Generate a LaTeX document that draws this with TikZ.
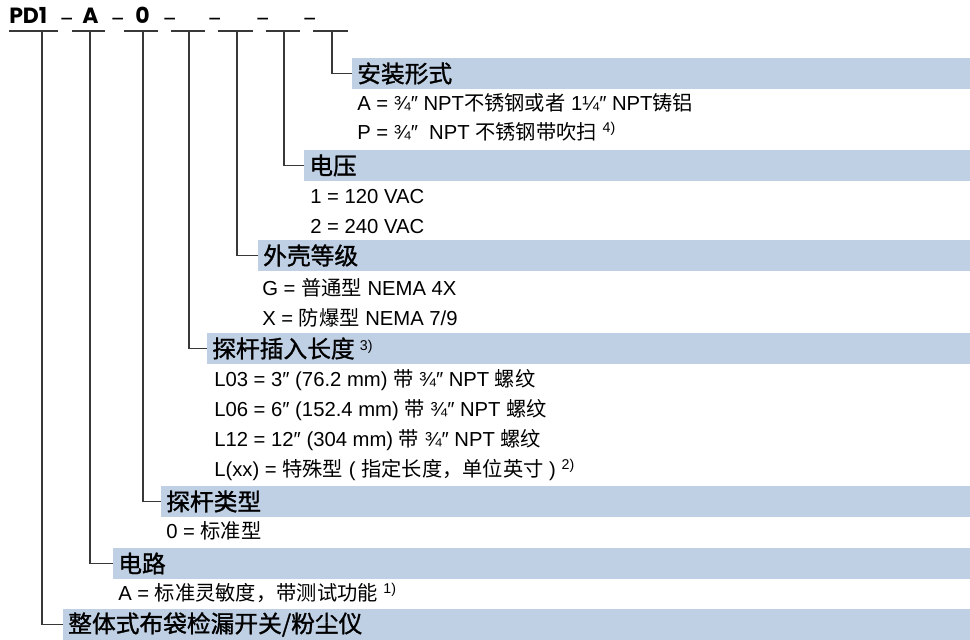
\documentclass[tikz,border=0pt]{standalone}
\usepackage{fontspec}
\setmainfont{Liberation Sans}
\newfontfamily\cjk{Noto Sans CJK SC}
\newfontfamily\cjkhead[FakeBold=1.2]{Noto Sans CJK SC}
\newfontfamily\hdrfont{Poppins}
\newcommand{\zh}[1]{{\cjk #1}}
\newcommand{\fn}[1]{\textsuperscript{#1}}
\definecolor{barblue}{HTML}{C0D0E4}
\definecolor{linegray}{HTML}{383838}
\tikzset{
  bar/.style={fill=barblue, draw=none, anchor=north west, minimum height=31*0.75pt, inner sep=0pt, outer sep=0pt},
  headtxt/.style={anchor=west, inner sep=0pt, font=\cjkhead\fontsize{17.8}{19}\selectfont},
  itemtxt/.style={anchor=west, inner sep=0pt, font=\fontsize{15.2}{17}\selectfont},
  hdr/.style={anchor=base west, inner sep=0pt, font=\hdrfont\bfseries\fontsize{16.5}{18}\selectfont},
  hdrsep/.style={anchor=base west, inner sep=0pt, font=\hdrfont\fontsize{15}{16}\selectfont},
  conn/.style={draw=linegray, line width=1.1pt},
}
\newcommand{\mybar}[4]{%
  \node[bar, minimum width={(970-#2)*0.75pt}] (#1) at (#2,#3) {};
  \node[headtxt] (#1t) at ([xshift=5*0.75pt]#1.west) {#4};
}
\begin{document}
\begin{tikzpicture}[x=0.75pt,y=-0.75pt]
\useasboundingbox (0,0) rectangle (970,639);
% header code
\node[hdr] (pd) at (9,23.5) {PD1};
\node[hdrsep] (s1) at (59,23) {\raisebox{0.3em}{\_}};
\node[hdr] (ca) at (82,23.5) {A};
\node[hdrsep] (s2) at (110,23) {\raisebox{0.3em}{\_}};
\node[hdr] (c0) at (135,23.5) {0};
\node[hdrsep] (s3) at (162,23) {\raisebox{0.3em}{\_}};
\node[hdrsep] (s4) at (207,23) {\raisebox{0.3em}{\_}};
\node[hdrsep] (s5) at (255,23) {\raisebox{0.3em}{\_}};
\node[hdrsep] (s6) at (302,23) {\raisebox{0.3em}{\_}};
% underline segments
\foreach \a/\b/\n in {9/58/7,72/105/6,124/158/5,171/205/4,218/253/3,266/300/2,313/348/1}{
  \coordinate (l\n) at (\a,31);
  \coordinate (r\n) at (\b,31);
  \draw[conn] (l\n) -- (r\n);
}
% vertical drop points
\coordinate (u1) at (332,31);
\coordinate (u2) at (284,31);
\coordinate (u3) at (237,31);
\coordinate (u4) at (189,31);
\coordinate (u5) at (143,31);
\coordinate (u6) at (90,31);
\coordinate (u7) at (42,31);
% bars
\mybar{b1}{352}{58}{安装形式}
\mybar{b2}{304}{150}{电压}
\mybar{b3}{258}{240}{外壳等级}
\mybar{b4}{207}{333}{探杆插入长度 {\normalfont\fontsize{15.2}{17}\selectfont\fn{3)}}}
\mybar{b5}{161}{486}{探杆类型}
\mybar{b6}{113}{548}{电路}
\mybar{b7}{63}{609}{整体式布袋检漏开关/粉尘仪}
% connectors
\foreach \n in {1,...,7}{\draw[conn] (u\n) |- (b\n.west);}
% items
\node[itemtxt] (i11) at (357,103) {A = ¾″ NPT\zh{不锈钢或者} 1¼″ NPT\zh{铸铝}};
\node[itemtxt] (i12) at (357,132) {P = ¾″ \ NPT \zh{不锈钢带吹扫} \fn{4)}};
\node[itemtxt] (i21) at (310,197) {1 = 120 VAC};
\node[itemtxt] (i22) at (310,227) {2 = 240 VAC};
\node[itemtxt] (i31) at (262,288) {G = \zh{普通型} NEMA 4X};
\node[itemtxt] (i32) at (262,318) {X = \zh{防爆型} NEMA 7/9};
\node[itemtxt] (i41) at (214,380) {L03 = 3″ (76.2 mm) \zh{带} ¾″ NPT \zh{螺纹}};
\node[itemtxt] (i42) at (214,410) {L06 = 6″ (152.4 mm) \zh{带} ¾″ NPT \zh{螺纹}};
\node[itemtxt] (i43) at (214,440) {L12 = 12″ (304 mm) \zh{带} ¾″ NPT \zh{螺纹}};
\node[itemtxt] (i44) at (214,470) {L(xx) = \zh{特殊型} ( \zh{指定长度，单位英寸} ) \fn{2)}};
\node[itemtxt] (i51) at (166,531) {0 = \zh{标准型}};
\node[itemtxt] (i61) at (118,593) {A = \zh{标准灵敏度，带测试功能} \fn{1)}};
\end{tikzpicture}
\end{document}
